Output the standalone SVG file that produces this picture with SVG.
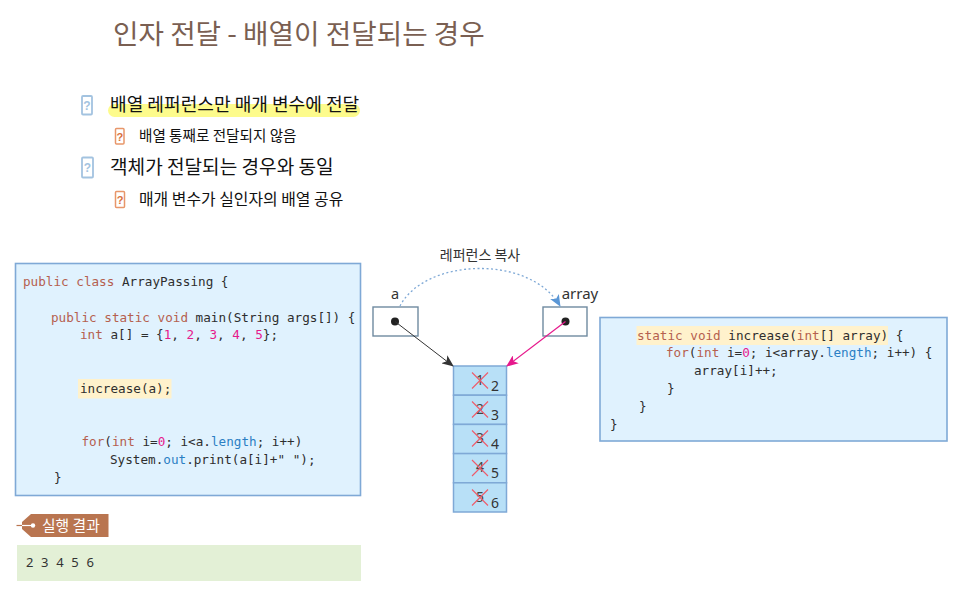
<svg xmlns="http://www.w3.org/2000/svg" width="968" height="616" viewBox="0 0 968 616">
<style>
text{font-family:"Noto Sans CJK KR","Noto Sans",sans-serif;fill:#111}
.code{font-family:"DejaVu Sans Mono","Liberation Mono",monospace;font-size:12.65px;fill:#2e2e2e;white-space:pre}
.k{fill:#b5604f}.n{fill:#e6198c}.f{fill:#2b7fc4}
.box{fill:#e0f2fe;stroke:#7fa9d6;stroke-width:1.6}
.ref{fill:#fff;stroke:#6f8aa0;stroke-width:1.4}
.cell{fill:#b8e0f7;stroke:#7fa9d6;stroke-width:1.5}
.x{stroke:#ee5a6a;stroke-width:1.1;fill:none}
.old{font-family:"Noto Sans",sans-serif;font-size:14px;fill:#444;text-anchor:middle}
.new{font-family:"Noto Sans",sans-serif;font-size:14px;fill:#333;text-anchor:middle}
.q1{fill:#fff;stroke:#a3c3e0;stroke-width:1.8}
.q2{fill:#fff;stroke:#e8966a;stroke-width:1.5}
.qt1{font-family:"Liberation Sans",sans-serif;font-size:12px;font-weight:bold;fill:#a3c3e0;text-anchor:middle}
.qt2{font-family:"Liberation Sans",sans-serif;font-size:11px;font-weight:bold;fill:#d9703a;text-anchor:middle}
</style>
<defs>
<marker id="ab" markerWidth="12" markerHeight="10" refX="11" refY="5" orient="auto" markerUnits="userSpaceOnUse"><path d="M0 0L12 5L0 10L3 5Z" fill="#333"/></marker>
<marker id="ap" markerWidth="12" markerHeight="10" refX="11" refY="5" orient="auto" markerUnits="userSpaceOnUse"><path d="M0 0L12 5L0 10L3 5Z" fill="#e6198c"/></marker>
<marker id="ad" markerWidth="12" markerHeight="10" refX="11" refY="5" orient="auto" markerUnits="userSpaceOnUse"><path d="M0 0L12 5L0 10L3 5Z" fill="#5b97d6"/></marker>
</defs>

<g id="title"><text x="113" y="44" font-size="27.700" style="fill:#7a5f52">인자 전달 - 배열이 전달되는 경우</text></g>

<g id="bullets">
<rect x="108" y="104" width="252" height="13" rx="6.500" fill="#fdfb8c"/>
<rect x="82" y="96" width="10" height="18.500" rx="1" class="q1"/><text x="87" y="110" class="qt1">?</text>
<text x="110" y="111" font-size="18.100">배열 레퍼런스만 매개 변수에 전달</text>
<rect x="115.500" y="128.500" width="8.500" height="15.500" rx="1" class="q2"/><text x="119.800" y="140.500" class="qt2">?</text>
<text x="139" y="141" font-size="14.600">배열 통째로 전달되지 않음</text>
<rect x="82" y="157.500" width="11" height="20" rx="1" class="q1"/><text x="87.500" y="172" class="qt1">?</text>
<text x="110" y="173.500" font-size="19.100">객체가 전달되는 경우와 동일</text>
<rect x="115.500" y="191.500" width="9" height="16" rx="1" class="q2"/><text x="120" y="203.500" class="qt2">?</text>
<text x="139" y="204.500" font-size="15.900">매개 변수가 실인자의 배열 공유</text>
</g>

<g id="main-code">
<rect x="15.500" y="263.500" width="345" height="232" class="box"/>
<rect x="78" y="379" width="93.500" height="19.500" fill="#fff2cc"/>
<text class="code" x="23" y="285.500"><tspan class="k">public class</tspan> ArrayPassing {</text>
<text class="code" x="51" y="321.500"><tspan class="k">public static void</tspan> main(String args[]) {</text>
<text class="code" x="80" y="339"><tspan class="k">int</tspan> a[] = {<tspan class="n">1</tspan>, <tspan class="n">2</tspan>, <tspan class="n">3</tspan>, <tspan class="n">4</tspan>, <tspan class="n">5</tspan>};</text>
<text class="code" x="80" y="392.500">increase(a);</text>
<text class="code" x="81.500" y="446"><tspan class="k">for</tspan>(<tspan class="k">int</tspan> i=<tspan class="n">0</tspan>; i&lt;a.<tspan class="f">length</tspan>; i++)</text>
<text class="code" x="110" y="464">System.<tspan class="f">out</tspan>.print(a[i]+" ");</text>
<text class="code" x="54" y="482">}</text>
</g>

<g id="result-tag">
<path d="M31 514H108.500V537H31L22 529V522Z" fill="#b97550"/>
<path d="M16.500 525.500H33" stroke="#b97550" stroke-width="1.200" fill="none"/>
<path d="M22 525.500H33" stroke="#fff" stroke-width="1.200" fill="none"/>
<circle cx="33" cy="525.500" r="2.200" fill="#fff"/>
<text x="42" y="530.500" font-size="14.800" style="fill:#fff">실행 결과</text>
</g>

<g id="result-output">
<rect x="17" y="545" width="344" height="36" fill="#e3f0d6"/>
<text x="26" y="567" font-size="13" letter-spacing="2.150" style="font-family:'Noto Sans',sans-serif;fill:#333">2 3 4 5 6</text>
</g>

<g id="var-a">
<text x="395" y="299" font-size="14.500" text-anchor="middle" style="font-family:'Noto Sans',sans-serif;fill:#333">a</text>
<rect x="373" y="307" width="45" height="29" class="ref"/>
<circle cx="395" cy="321.500" r="4" fill="#222"/>
</g>
<g id="var-array">
<text x="580" y="299" font-size="15" text-anchor="middle" style="font-family:'Noto Sans',sans-serif;fill:#333">array</text>
<rect x="543" y="307" width="44" height="29" class="ref"/>
<circle cx="565.500" cy="321.500" r="4" fill="#222"/>
</g>
<g id="copy-label"><text x="480" y="260" font-size="14" text-anchor="middle" style="fill:#333">레퍼런스 복사</text></g>

<g id="array-cells">
<rect x="453.500" y="366" width="53" height="29.200" class="cell"/>
<rect x="453.500" y="395.200" width="53" height="29.200" class="cell"/>
<rect x="453.500" y="424.400" width="53" height="29.200" class="cell"/>
<rect x="453.500" y="453.600" width="53" height="29.200" class="cell"/>
<rect x="453.500" y="482.800" width="53" height="29.200" class="cell"/>
<text class="old" x="480" y="385">1</text><path class="x" d="M472 372.500L488 388.500M488 372.500L472 388.500"/><text class="new" x="495" y="391">2</text>
<text class="old" x="480" y="414">2</text><path class="x" d="M472 401.500L488 417.500M488 401.500L472 417.500"/><text class="new" x="495" y="420">3</text>
<text class="old" x="480" y="443">3</text><path class="x" d="M472 430.500L488 446.500M488 430.500L472 446.500"/><text class="new" x="495" y="449">4</text>
<text class="old" x="480" y="472">4</text><path class="x" d="M472 460L488 476M488 460L472 476"/><text class="new" x="495" y="478">5</text>
<text class="old" x="480" y="502">5</text><path class="x" d="M472 489.500L488 505.500M488 489.500L472 505.500"/><text class="new" x="495" y="508">6</text>
</g>

<g id="increase-code">
<rect x="600" y="317.500" width="347" height="123.500" class="box"/>
<rect x="636.500" y="326" width="251.500" height="19" fill="#fff2cc"/>
<text class="code" x="637" y="339.500"><tspan class="k">static void</tspan> increase(<tspan class="k">int</tspan>[] array) {</text>
<text class="code" x="666" y="357"><tspan class="k">for</tspan>(<tspan class="k">int</tspan> i=<tspan class="n">0</tspan>; i&lt;array.<tspan class="f">length</tspan>; i++) {</text>
<text class="code" x="694" y="375">array[i]++;</text>
<text class="code" x="667" y="393">}</text>
<text class="code" x="639" y="411">}</text>
<text class="code" x="610" y="429">}</text>
</g>

<g id="connectors" fill="none">
<path d="M395 321.500L453 366" stroke="#333" stroke-width="1" marker-end="url(#ab)"/>
<path d="M565.500 321.500L507 366" stroke="#e6198c" stroke-width="1.200" marker-end="url(#ap)"/>
<path d="M400 306C425 258 530 254 560 306" stroke="#7fa9d6" stroke-width="1.300" stroke-dasharray="2 2.500" marker-end="url(#ad)"/>
</g>
</svg>
